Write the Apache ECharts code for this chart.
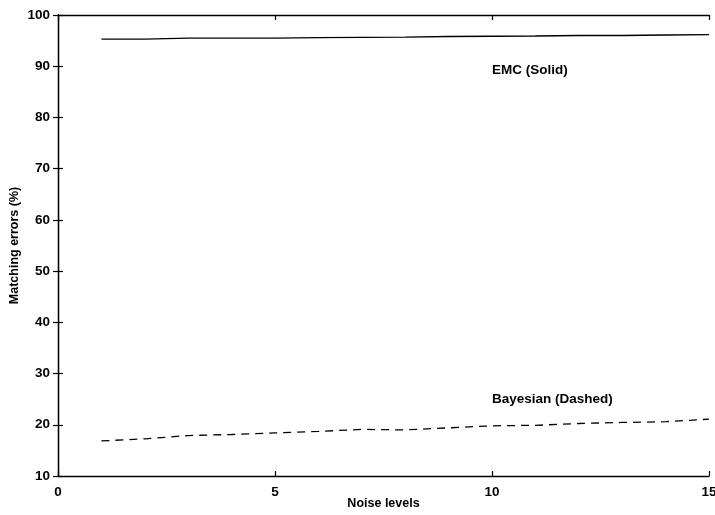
<!DOCTYPE html>
<html>
<head>
<meta charset="utf-8">
<script src="https://cdn.jsdelivr.net/npm/echarts@6/dist/echarts.min.js"></script>
<style>
  html, body { margin: 0; padding: 0; background: #fff; }
  #chart { width: 715px; height: 515px; }
</style>
</head>
<body>
<div id="chart"></div>
<script>
var noiseLevels = [1, 2, 3, 4, 5, 6, 7, 8, 9, 10, 11, 12, 13, 14, 15];
var emcErrors = [95.3, 95.3, 95.5, 95.5, 95.5, 95.6, 95.65, 95.7, 95.8, 95.85, 95.9, 96.0, 96.0, 96.1, 96.15];
var bayesErrors = [16.85, 17.25, 17.9, 18.1, 18.4, 18.7, 19.1, 19.0, 19.4, 19.8, 19.9, 20.25, 20.45, 20.6, 21.1];
var xTicks = [0, 5, 10, 15];
var yTicks = [10, 20, 30, 40, 50, 60, 70, 80, 90, 100];

var font = 'Liberation Sans, Arial, Helvetica, sans-serif';

function pairs(ys) {
	return noiseLevels.map(function (x, i) { return [x, ys[i]]; });
}

var chartDom = document.getElementById('chart');
var myChart = echarts.init(chartDom, null, { renderer: 'canvas', devicePixelRatio: 1 });

var axisLine = { show: true, lineStyle: { color: '#000', width: 1.3 } };
var tick = { show: true, inside: true, length: 5, lineStyle: { color: '#000', width: 1.2 } };
var labelText = { color: '#000', fontFamily: font, fontSize: 13.5, fontWeight: 'bold' };

var option = {
	backgroundColor: '#fff',
	animation: false,
	grid: { left: 58, right: 6, top: 15, bottom: 39, containLabel: false, outerBoundsMode: 'none' },
	xAxis: [
		{
			type: 'value', min: xTicks[0], max: xTicks[xTicks.length - 1], interval: 5,
			name: 'Noise levels', nameLocation: 'middle', nameGap: 21, nameMoveOverlap: false,
			nameTextStyle: { color: '#000', fontFamily: font, fontSize: 12.5, fontWeight: 'bold' },
			axisLine: axisLine, axisTick: tick, splitLine: { show: false },
			axisLabel: Object.assign({ margin: 9 }, labelText)
		},
		{
			type: 'value', position: 'top', min: 0, max: 15, interval: 5,
			axisLine: axisLine, axisTick: tick, splitLine: { show: false },
			axisLabel: { show: false }
		}
	],
	yAxis: [
		{
			type: 'value', min: yTicks[0], max: yTicks[yTicks.length - 1], interval: 10,
			name: 'Matching errors (%)', nameLocation: 'middle', nameGap: 37, nameMoveOverlap: false,
			nameTextStyle: { color: '#000', fontFamily: font, fontSize: 12.5, fontWeight: 'bold' },
			axisLine: axisLine, axisTick: tick, splitLine: { show: false },
			axisLabel: Object.assign({ margin: 8 }, labelText)
		},
		{
			type: 'value', position: 'right', min: 10, max: 100, interval: 10,
			axisLine: axisLine, axisTick: tick, splitLine: { show: false },
			axisLabel: { show: false }
		}
	],
	series: [
		{
			name: 'EMC (Solid)', type: 'line', data: pairs(emcErrors),
			showSymbol: false, symbol: 'none',
			lineStyle: { color: '#000', width: 1.3, type: 'solid' },
			markPoint: {
				symbol: 'circle', symbolSize: 0,
				data: [{ coord: [10, 89.2] }],
				label: Object.assign({ show: true, position: 'right', distance: 0, formatter: 'EMC (Solid)' }, labelText)
			}
		},
		{
			name: 'Bayesian (Dashed)', type: 'line', data: pairs(bayesErrors),
			showSymbol: false, symbol: 'none',
			lineStyle: { color: '#000', width: 1.3, type: [8, 6] },
			markPoint: {
				symbol: 'circle', symbolSize: 0,
				data: [{ coord: [10, 24.9] }],
				label: Object.assign({ show: true, position: 'right', distance: 0, formatter: 'Bayesian (Dashed)' }, labelText)
			}
		}
	]
};

option && myChart.setOption(option);
</script>
</body>
</html>
